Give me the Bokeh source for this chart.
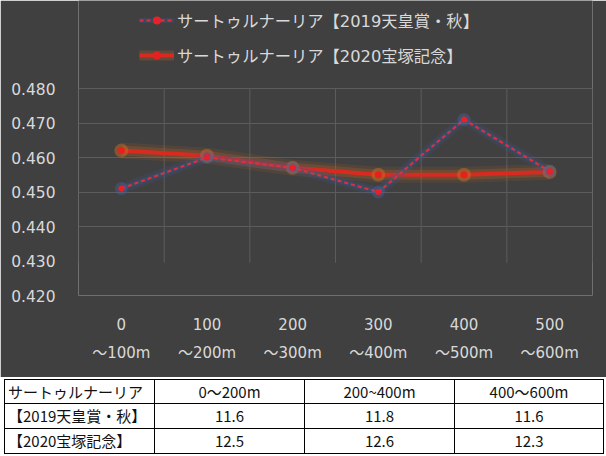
from bokeh.plotting import figure
from bokeh.models import (Range1d, FixedTicker, LinearAxis, NumeralTickFormatter,
                          Legend, LegendItem, ColumnDataSource, Div)
from bokeh.layouts import column
from bokeh.embed import file_html
from bokeh.resources import INLINE

# ---------------- data ----------------
categories_top = ["0", "100", "200", "300", "400", "500"]
categories_bottom = ["～100m", "～200m", "～300m", "～400m", "～500m", "～600m"]
series_2019_name = "サートゥルナーリア【2019天皇賞・秋】"
series_2020_name = "サートゥルナーリア【2020宝塚記念】"
values_2019 = [0.451, 0.460, 0.457, 0.450, 0.471, 0.456]
values_2020 = [0.462, 0.4605, 0.457, 0.455, 0.455, 0.4558]
y_ticks = [0.42, 0.43, 0.44, 0.45, 0.46, 0.47, 0.48]
y_grid_ticks = [0.44, 0.45, 0.46, 0.47, 0.48]

table_header = ["サートゥルナーリア", "0～200m", "200~400m", "400～600m"]
table_row_labels = ["【2019天皇賞・秋】", "【2020宝塚記念】"]
table_2019 = [11.6, 11.8, 11.6]
table_2020 = [12.5, 12.6, 12.3]

# ---------------- style ----------------
FONT = "Noto Sans CJK JP"
AXFONT = "DejaVu Sans, Noto Sans CJK JP"
BG = "#404040"
TXT = "#d9d9d9"
GRID = "#5c5c5c"
W = 606
H_CHART = 377
H_TABLE = 79
FRAME_H = 295          # frame spans from top of figure to the 0.420 line
TOP_PAD_PX = 88        # pixels above the 0.480 line (legend area)

n = len(categories_top)
xs = [i + 0.5 for i in range(n)]
bounds = list(range(n + 1))
y_lo, y_hi = y_ticks[0], y_ticks[-1]
y_top = y_hi + (y_hi - y_lo) * TOP_PAD_PX / (FRAME_H - TOP_PAD_PX)

p = figure(width=W, height=H_CHART, output_backend="svg", toolbar_location=None,
           x_range=Range1d(0, n), y_range=Range1d(y_lo, y_top),
           min_border_left=78, min_border_right=14, min_border_top=0,
           min_border_bottom=H_CHART - FRAME_H, background_fill_color=BG,
           border_fill_color=BG, outline_line_color=None)

# grids
p.xgrid.visible = False
p.ygrid.ticker = FixedTicker(ticks=y_grid_ticks)
p.ygrid.grid_line_color = GRID
p.ygrid.grid_line_width = 1
p.segment(x0=bounds, x1=bounds, y0=[0.4295] * len(bounds), y1=[y_hi] * len(bounds),
          line_color=GRID, line_width=1)

# y axis
yax = p.yaxis[0]
yax.ticker = FixedTicker(ticks=y_ticks)
yax.formatter = NumeralTickFormatter(format="0.000")
yax.axis_line_color = None
yax.major_tick_line_color = None
yax.minor_tick_line_color = None
yax.major_tick_out = 0
yax.major_tick_in = 0
yax.major_label_text_color = TXT
yax.major_label_text_font = AXFONT
yax.major_label_text_font_size = "15.5px"
yax.major_label_standoff = 23

# x axes (two rows of labels)
def style_x(ax, labels, standoff):
    ax.ticker = FixedTicker(ticks=xs)
    ax.major_label_overrides = {x: lab for x, lab in zip(xs, labels)}
    ax.axis_line_color = None
    ax.major_tick_line_color = None
    ax.minor_tick_line_color = None
    ax.major_tick_out = 0
    ax.major_tick_in = 0
    ax.major_label_text_color = TXT
    ax.major_label_text_font = AXFONT
    ax.major_label_text_font_size = "15px"
    ax.major_label_standoff = standoff

style_x(p.xaxis[0], categories_top, 22)
ax2 = LinearAxis()
style_x(ax2, categories_bottom, 11)
p.add_layout(ax2, "below")

# series 2020 (solid, orange glow)
src20 = ColumnDataSource(dict(x=xs, y=values_2020))
g20a = p.line("x", "y", source=src20, line_color="#c8641e", line_width=16, line_alpha=0.13)
g20b = p.line("x", "y", source=src20, line_color="#c8641e", line_width=10, line_alpha=0.25)
l20 = p.line("x", "y", source=src20, line_color="#d82a20", line_width=4)
m20a = p.scatter("x", "y", source=src20, marker="circle", size=14, fill_color="#d0701e",
                 fill_alpha=0.45, line_color=None)
m20 = p.scatter("x", "y", source=src20, marker="circle", size=7, fill_color="#e62020",
                line_color=None)

# series 2019 (dashed, blue glow)
src19 = ColumnDataSource(dict(x=xs, y=values_2019))
g19a = p.line("x", "y", source=src19, line_color="#3e5a96", line_width=10, line_alpha=0.18)
g19b = p.line("x", "y", source=src19, line_color="#3e5a96", line_width=5, line_alpha=0.28)
l19 = p.line("x", "y", source=src19, line_color="#e0303e", line_width=2, line_dash="4 3")
m19a = p.scatter("x", "y", source=src19, marker="circle", size=13, fill_color="#4a68a8",
                 fill_alpha=0.35, line_color=None)
m19 = p.scatter("x", "y", source=src19, marker="circle", size=6, fill_color="#e8202a",
                line_color=None)

legend = Legend(items=[
    LegendItem(label=series_2019_name, renderers=[g19b, l19, m19]),
    LegendItem(label=series_2020_name, renderers=[g20b, l20, m20]),
], location=(61, 228), orientation="vertical",
    background_fill_alpha=0, border_line_color=None, padding=0, margin=0,
    glyph_width=35, glyph_height=20, label_height=20, spacing=11, label_standoff=3,
    label_text_color=TXT, label_text_font=AXFONT, label_text_font_size="16.3px")
p.add_layout(legend)

# ---------------- table (HTML) ----------------
rows = [table_header,
        [table_row_labels[0]] + [f"{v:.1f}" for v in table_2019],
        [table_row_labels[1]] + [f"{v:.1f}" for v in table_2020]]
col_w = [150, 150, 150, 149]
row_h = [24, 25, 25]

html = ['<table style="border-collapse:collapse;table-layout:fixed;'
        f'margin:2px 0 0 4px;font-family:\'{FONT}\';font-size:15px;color:#111;'
        'background:white;">']
for r, row in enumerate(rows):
    html.append("<tr>")
    for c, txt in enumerate(row):
        align = "left" if c == 0 else "center"
        pad = "0 0 0 3px" if c == 0 else "0"
        html.append(f'<td style="width:{col_w[c]}px;height:{row_h[r]}px;'
                    f'border:1px solid #000;text-align:{align};padding:{pad};'
                    f'line-height:20px;white-space:nowrap;vertical-align:middle;">{txt}</td>')
    html.append("</tr>")
html.append("</table>")

table = Div(text="".join(html), width=W, height=H_TABLE, margin=(0, 0, 0, 0),
            styles={"background-color": "white", "overflow": "hidden"})

layout = column(p, table, spacing=0)
open("out.html", "w").write(file_html(layout, INLINE))
